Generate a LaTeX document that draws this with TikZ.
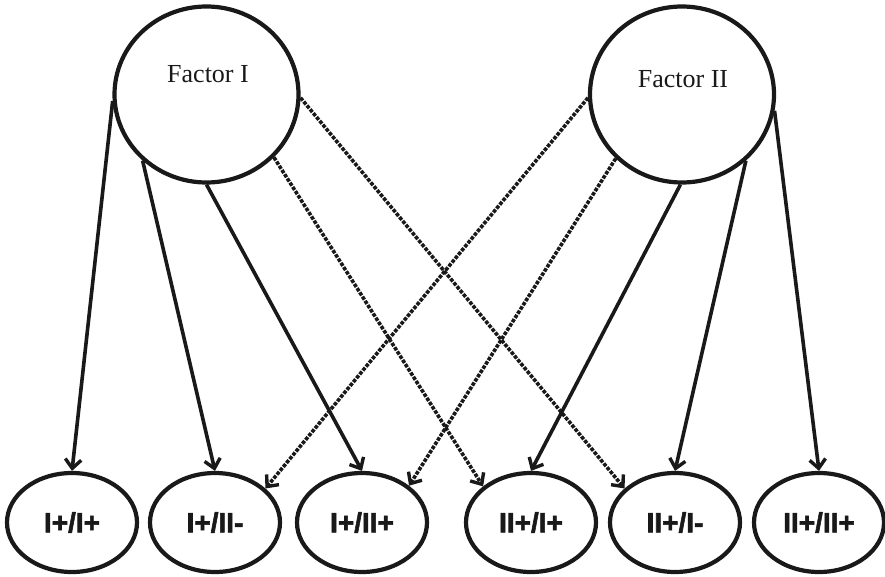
\documentclass[tikz,border=0pt]{standalone}
\usepackage{fontspec}
\setmainfont{Liberation Serif}
\newfontfamily\labfont[FakeBold=2]{Liberation Sans}
\usetikzlibrary{shapes.geometric,arrows.meta}
\begin{document}
\begin{tikzpicture}[x=1pt,y=-1pt,
  factor/.style={draw=black!90, line width=4.2pt, ellipse, minimum width=184pt, minimum height=176pt, inner sep=0pt},
  ftext/.style={font=\fontsize{26}{30}\selectfont, text=black!90, inner sep=0pt},
  item/.style={draw=black!90, line width=4.2pt, ellipse, minimum width=130pt, minimum height=99pt, inner sep=0pt,
    font=\labfont\bfseries\fontsize{28}{32}\selectfont, text=black!90},
  link/.style={draw=black!90, line width=3.6pt, -{Straight Barb[length=9pt,width=16pt,line width=3.4pt]}},
  cross/.style={link, dash pattern=on 3.6pt off 1.4pt}
]
\useasboundingbox (0,0) rectangle (885,577);

% the two latent factors
\node[factor] (f1) at (206.5,94.5) {};
\node[factor] (f2) at (682,94.5) {};
\node[ftext] (t1) at (208,74) {Factor I};
\node[ftext] (t2) at (683,79) {Factor II};

% the six indicator groups
\node[item] (e1) at (72,522.5) {I+/I+};
\node[item] (e2) at (215,522.5) {I+/II-};
\node[item] (e3) at (362,522.5) {I+/II+};
\node[item] (e4) at (531,522.5) {II+/I+};
\node[item] (e5) at (675,522.5) {II+/I-};
\node[item] (e6) at (819,522.5) {II+/II+};

% loadings of Factor I
\draw[link]  (f1.184) -- (e1.north);
\draw[link]  (f1.226) -- (e2.north);
\draw[link]  (f1.270) -- (e3.north);
\draw[cross] (f1.317) -- (e4.143);
\draw[cross] (f1.358) -- (e5.146);

% loadings of Factor II
\draw[cross] (f2.182) -- (e2.34);
\draw[cross] (f2.224.5) -- (e3.38);
\draw[link]  (f2.269) -- (e4.north);
\draw[link]  (f2.314.5) -- (e5.north);
\draw[link]  (f2.350) -- (e6.north);
\end{tikzpicture}
\end{document}
